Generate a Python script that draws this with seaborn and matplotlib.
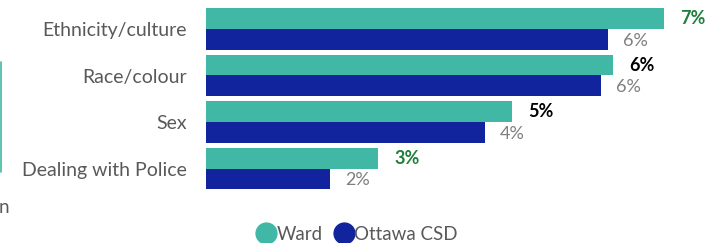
import matplotlib
matplotlib.use("Agg")
import matplotlib.pyplot as plt
from matplotlib.lines import Line2D
import seaborn as sns
import pandas as pd

categories = ["Ethnicity/culture", "Race/colour", "Sex", "Dealing with Police"]
ward = [6.9, 6.13, 4.61, 2.59]
ottawa = [6.05, 5.95, 4.2, 1.87]
series_names = ["Ward", "Ottawa CSD"]
ward_labels = ["7%", "6%", "5%", "3%"]
ottawa_labels = ["6%", "6%", "4%", "2%"]
ward_label_colors = ["#1E7E3A", "#000000", "#000000", "#1E7E3A"]

teal = "#41B7A6"
navy = "#12239E"
gray = "#595959"

df = pd.DataFrame({
    "category": categories * 2,
    "value": ward + ottawa,
    "series": [series_names[0]] * 4 + [series_names[1]] * 4,
})

sns.set_style("white")
plt.rcParams["font.family"] = ["Lato", "DejaVu Sans"]

fig = plt.figure(figsize=(7.26, 2.43), dpi=100)
ax = fig.add_axes([206 / 726, 1 - 191.75 / 243, 520 / 726, 186 / 243])

sns.barplot(data=df, y="category", x="value", hue="series", order=categories,
            hue_order=series_names, palette=[teal, navy], width=0.9,
            orient="h", ax=ax, legend=False, saturation=1, linewidth=0)

ax.set_xlim(0, 7.83)
ax.set_ylim(3.5, -0.5)
ax.set_xlabel("")
ax.set_ylabel("")
ax.set_xticks([])
for s in ax.spines.values():
    s.set_visible(False)
ax.tick_params(axis="y", length=0, pad=14, labelsize=14, labelcolor=gray)

px = 7.83 / 520
for i in range(len(categories)):
    ax.text(ward[i] + 16 * px, i - 0.225, ward_labels[i], va="center", ha="left",
            fontsize=13, fontweight="bold", color=ward_label_colors[i])
    ax.text(ottawa[i] + 15 * px, i + 0.225 + 0.03, ottawa_labels[i], va="center", ha="left",
            fontsize=13, color="#7F7F7F")

handles = [Line2D([], [], marker="o", linestyle="", markersize=15, color=teal),
           Line2D([], [], marker="o", linestyle="", markersize=15, color=navy)]
leg = fig.legend(handles, series_names, loc="center", bbox_to_anchor=(0.492, 0.036),
                 ncol=2, frameon=False, handletextpad=0.05, columnspacing=0.65,
                 fontsize=13.5, handlelength=1.0)
for t in leg.get_texts():
    t.set_color(gray)

# fragments of neighbouring content at the left edge
fig.add_artist(Line2D([1 / 726, 1 / 726], [1 - 62 / 243, 1 - 172 / 243], color=teal, linewidth=1.2))
fig.text(-1 / 726, 1 - 207 / 243, "n", fontsize=13.5, color=gray, va="center", ha="left")

fig.savefig("out.png", dpi=100)
